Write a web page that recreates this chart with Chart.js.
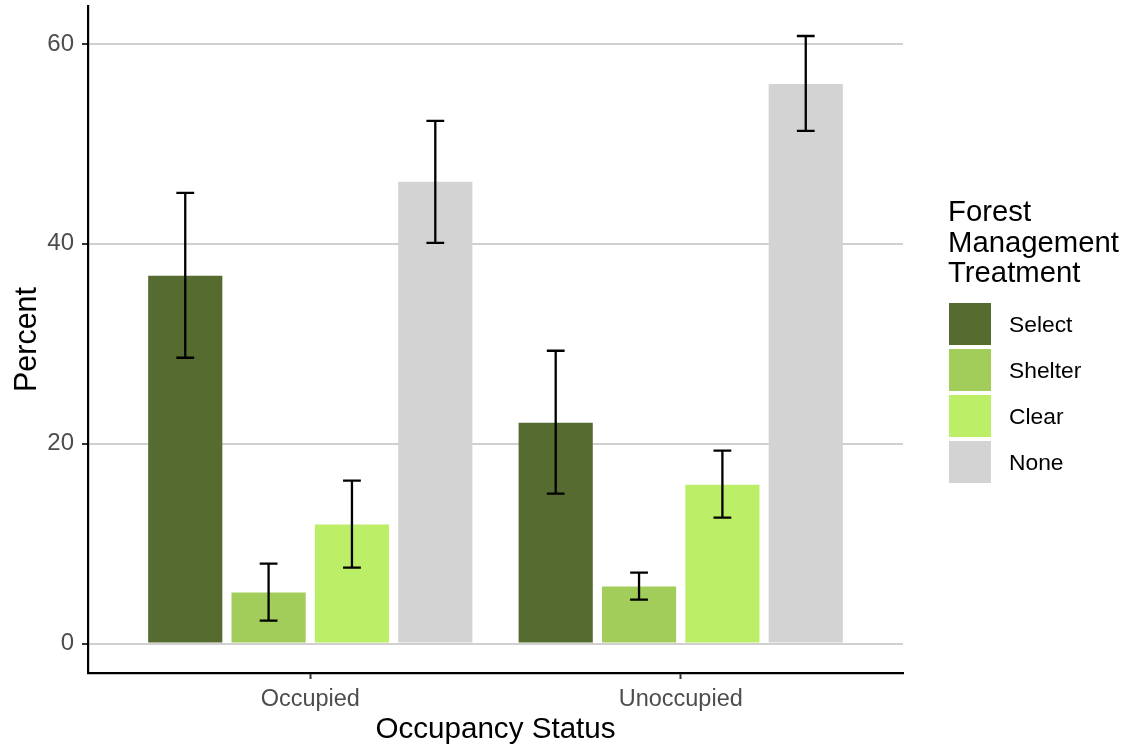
<!DOCTYPE html>
<html>
<head>
<meta charset="utf-8">
<script src="https://cdn.jsdelivr.net/npm/chart.js@4.4.1/dist/chart.umd.min.js"></script>
<style>
  html, body { margin: 0; padding: 0; background: #ffffff; }
  #wrap { position: relative; width: 1129px; height: 748px; font-family: "Liberation Sans", Arial, sans-serif; }
  #legend { position: absolute; left: 948px; top: 196px; color: #000; }
  #legend .title { font-size: 29.3px; line-height: 30.5px; }
  #legend .item { position: relative; height: 46px; }
  #legend .box { position: absolute; left: 1px; top: 0; width: 42px; height: 42px; }
  #legend .lab { position: absolute; left: 61px; top: 0; height: 42px; line-height: 42px; font-size: 22.8px; white-space: nowrap; }
  #legend .items { position: absolute; top: 107px; left: 0; }
</style>
</head>
<body>
<div id="wrap">
  <canvas id="c" width="1129" height="748"></canvas>
  <div id="legend"></div>
</div>
<script>
// ---- data ----
const categories = ['Occupied', 'Unoccupied'];
const treatments = ['Select', 'Shelter', 'Clear', 'None'];
const colors = ['#556b2f', '#a2cd5a', '#bcee68', '#d3d3d3'];
const yTicks = [0, 20, 40, 60];
const legendTitle = ['Forest', 'Management', 'Treatment'];

const selectVals  = [36.8, 22.1];
const selectLow   = [28.6, 15.0];
const selectHigh  = [45.1, 29.3];
const shelterVals = [5.1, 5.7];
const shelterLow  = [2.3, 4.4];
const shelterHigh = [8.0, 7.1];
const clearVals   = [11.9, 15.9];
const clearLow    = [7.6, 12.6];
const clearHigh   = [16.3, 19.3];
const noneVals    = [46.2, 56.0];
const noneLow     = [40.1, 51.3];
const noneHigh    = [52.3, 60.8];

const seriesVals = [selectVals, shelterVals, clearVals, noneVals];
const seriesLow  = [selectLow, shelterLow, clearLow, noneLow];
const seriesHigh = [selectHigh, shelterHigh, clearHigh, noneHigh];

const datasets = treatments.map((t, i) => ({
  label: t,
  data: seriesVals[i].map((v, j) => ({ x: j + 1, y: v })),
  backgroundColor: colors[i],
  borderWidth: 0,
  categoryPercentage: 0.9,
  barPercentage: 0.89
}));

const errorBars = {
  id: 'errorBars',
  afterDatasetsDraw(chart) {
    const ctx = chart.ctx;
    const ys = chart.scales.y;
    ctx.save();
    ctx.strokeStyle = '#000';
    ctx.lineWidth = 2.3;
    chart.data.datasets.forEach((ds, i) => {
      const meta = chart.getDatasetMeta(i);
      meta.data.forEach((bar, j) => {
        const x = bar.x;
        const half = bar.width * 0.12;
        const yt = ys.getPixelForValue(seriesHigh[i][j]);
        const yb = ys.getPixelForValue(seriesLow[i][j]);
        ctx.beginPath();
        ctx.moveTo(x, yt); ctx.lineTo(x, yb);
        ctx.moveTo(x - half, yt); ctx.lineTo(x + half, yt);
        ctx.moveTo(x - half, yb); ctx.lineTo(x + half, yb);
        ctx.stroke();
      });
    });
    ctx.restore();
  }
};

Chart.defaults.font.family = '"Liberation Sans", Arial, sans-serif';

const chart = new Chart(document.getElementById('c'), {
  type: 'bar',
  data: { datasets },
  options: {
    responsive: false,
    animation: false,
    layout: { padding: { top: 6, right: 226, left: 0, bottom: 0 } },
    plugins: { legend: { display: false }, tooltip: { enabled: false } },
    scales: {
      x: {
        type: 'linear',
        offset: false,
        min: 0.4,
        max: 2.6,
        afterBuildTicks(s) { s.ticks = categories.map((c, i) => ({ value: i + 1 })); },
        afterFit(s) { s.height = 75; s.paddingLeft = 0; s.paddingRight = 0; },
        ticks: {
          callback: (v) => categories[Math.round(v) - 1],
          color: '#4d4d4d',
          font: { size: 23.5 },
          padding: 6,
          maxRotation: 0,
          autoSkip: false
        },
        grid: { display: true, offset: false, drawOnChartArea: false, drawTicks: true, tickLength: 6, tickColor: '#333', tickWidth: 2 },
        border: { display: true, color: '#000', width: 2.2 },
        title: { display: true, text: 'Occupancy Status', color: '#000', font: { size: 29.6 }, padding: { top: 2, bottom: 0 } }
      },
      y: {
        min: -2.95,
        max: 63.8,
        afterBuildTicks(s) { s.ticks = yTicks.map(v => ({ value: v })); },
        afterFit(s) { s.width = 88; s.paddingTop = 0; s.paddingBottom = 0; },
        ticks: { color: '#4d4d4d', font: { size: 24 }, padding: 8 },
        grid: { color: '#d0d0d0', lineWidth: 2, drawTicks: true, tickLength: 6, tickColor: '#333', tickWidth: 2 },
        border: { display: true, color: '#000', width: 2.2 },
        title: { display: true, text: 'Percent', color: '#000', font: { size: 30.5 }, padding: { top: 9, bottom: 0 } }
      }
    }
  },
  plugins: [errorBars]
});

// ---- HTML legend ----
const lg = document.getElementById('legend');
const tdiv = document.createElement('div');
tdiv.className = 'title';
tdiv.innerHTML = legendTitle.join('<br>');
lg.appendChild(tdiv);
const items = document.createElement('div');
items.className = 'items';
chart.data.datasets.forEach(ds => {
  const it = document.createElement('div');
  it.className = 'item';
  const b = document.createElement('div');
  b.className = 'box';
  b.style.background = ds.backgroundColor;
  const l = document.createElement('div');
  l.className = 'lab';
  l.textContent = ds.label;
  it.appendChild(b); it.appendChild(l);
  items.appendChild(it);
});
lg.appendChild(items);
</script>
</body>
</html>
